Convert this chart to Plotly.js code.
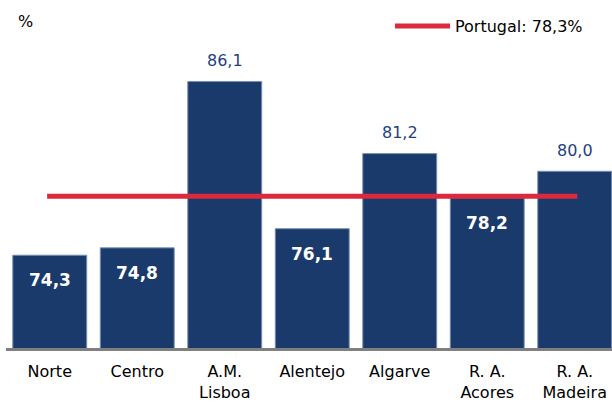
<!DOCTYPE html>
<html>
<head>
<meta charset="utf-8">
<script src="https://cdn.plot.ly/plotly-3.0.1.min.js"></script>
<style>html,body{margin:0;padding:0;background:#fff;}#chart{width:612px;height:403px;}</style>
</head>
<body>
<div id="chart"></div>
<script>
var categories = ["Norte", "Centro", "A.M.<br>Lisboa", "Alentejo", "Algarve", "R. A.<br>Acores", "R. A.<br>Madeira"];
var values = [74.3, 74.8, 86.1, 76.1, 81.2, 78.2, 80.0];
var labelInside = [true, true, false, true, false, true, false];
var portugal = 78.3;
var legendLabel = "Portugal: 78,3%";

function fmt(v) { return v.toFixed(1).replace(".", ","); }

var barColor = "#1b3a6c";
var annotations = [];
for (var i = 0; i < values.length; i++) {
  var inside = labelInside[i];
  annotations.push({
    x: categories[i], y: values[i], xref: "x", yref: "y",
    text: fmt(values[i]), showarrow: false, yanchor: "middle",
    yshift: inside ? -25 : 21,
    font: inside ? {family: "DejaVu Sans", size: 17, color: "#ffffff", weight: "bold"}
                 : {family: "DejaVu Sans", size: 16, color: "#1f3f7f"}
  });
}
annotations.push({
  xref: "paper", yref: "paper", x: (16 - 6) / 606, y: (348 - 22) / 324,
  xanchor: "left", yanchor: "middle", showarrow: false, text: "%",
  font: {family: "DejaVu Sans", size: 16, color: "#000"}
});
annotations.push({
  xref: "paper", yref: "paper", x: (453 - 6) / 606, y: (348 - 26) / 324,
  xanchor: "left", yanchor: "middle", showarrow: false, text: legendLabel,
  font: {family: "DejaVu Sans", size: 16, color: "#000"}
});

var data = [{
  type: "bar", x: categories, y: values,
  marker: {color: barColor, line: {color: "#7890b4", width: 1}},
  hoverinfo: "none", showlegend: false
}];

var layout = {
  width: 612, height: 403,
  margin: {l: 6, r: 0, t: 24, b: 55},
  paper_bgcolor: "#fff", plot_bgcolor: "#fff",
  bargap: 0.155,
  showlegend: false,
  xaxis: {
    type: "category", range: [-0.5, 6.426],
    showline: true, linecolor: "#808080", linewidth: 3,
    ticks: "", showgrid: false, zeroline: false,
    ticklabelstandoff: 7,
    tickfont: {family: "DejaVu Sans", size: 16, color: "#000"}
  },
  yaxis: {
    range: [68, 90], showticklabels: false, showgrid: false,
    zeroline: false, showline: false, ticks: ""
  },
  shapes: [
    {type: "line", xref: "x", yref: "y", x0: -0.03, x1: 6.03, y0: portugal, y1: portugal,
     line: {color: "#dc2a3c", width: 5}},
    {type: "line", xref: "paper", yref: "paper",
     x0: (395 - 6) / 606, x1: (450 - 6) / 606, y0: (348 - 26) / 324, y1: (348 - 26) / 324,
     line: {color: "#dc2a3c", width: 5}}
  ],
  annotations: annotations
};

Plotly.newPlot("chart", data, layout, {staticPlot: true});
</script>
</body>
</html>
